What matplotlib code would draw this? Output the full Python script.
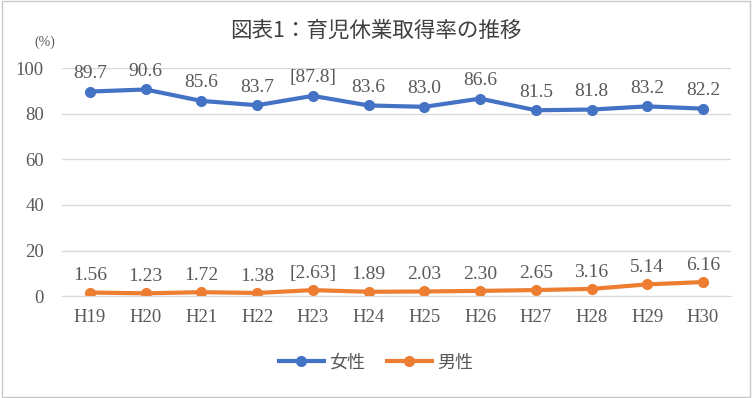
import matplotlib.pyplot as plt
from matplotlib.patches import Rectangle

years = ["H19", "H20", "H21", "H22", "H23", "H24", "H25", "H26", "H27", "H28", "H29", "H30"]
josei = [89.7, 90.6, 85.6, 83.7, 87.8, 83.6, 83.0, 86.6, 81.5, 81.8, 83.2, 82.2]
dansei = [1.56, 1.23, 1.72, 1.38, 2.63, 1.89, 2.03, 2.30, 2.65, 3.16, 5.14, 6.16]
josei_labels = ["89.7", "90.6", "85.6", "83.7", "[87.8]", "83.6", "83.0", "86.6", "81.5", "81.8", "83.2", "82.2"]
dansei_labels = ["1.56", "1.23", "1.72", "1.38", "[2.63]", "1.89", "2.03", "2.30", "2.65", "3.16", "5.14", "6.16"]

fam = ["Liberation Serif", "Noto Sans CJK JP"]
plt.rcParams["font.family"] = fam
txt_col = "#595959"

fig = plt.figure(figsize=(7.52, 3.98), dpi=100)
fig.patches.append(Rectangle((0.002, 0.003), 0.996, 0.994, transform=fig.transFigure,
                             fill=False, edgecolor="#c8c8c8", lw=1))
ax = fig.add_axes([0.0824, 0.256, 0.8896, 0.573])

x = list(range(len(years)))
ax.plot(x, josei, color="#4472C4", lw=3, marker="o", ms=7, label="女性")
ax.plot(x, dansei, color="#ED7D31", lw=3, marker="o", ms=7, label="男性")

# ラベル
for i in x:
    ax.annotate(josei_labels[i], (i, josei[i]), xytext=(0, 7), textcoords="offset points",
                ha="center", va="bottom", fontsize=14, color=txt_col)
    ax.annotate(dansei_labels[i], (i, dansei[i]), xytext=(0, 6), textcoords="offset points",
                ha="center", va="bottom", fontsize=14, color=txt_col)

ax.set_xlim(-0.5, len(years) - 0.5)
ax.set_ylim(0, 100)
ax.set_yticks(range(0, 101, 20))
ax.set_xticks(x)
ax.set_xticklabels(years)
ax.grid(axis="y", color="#d9d9d9", lw=1)
ax.set_axisbelow(True)
for s in ["top", "right", "left"]:
    ax.spines[s].set_visible(False)
ax.spines["bottom"].set_color("#d9d9d9")
ax.tick_params(length=0, labelsize=13.5, colors=txt_col)
ax.tick_params(axis="y", pad=13)
ax.tick_params(axis="x", pad=9)

fig.text(0.5, 0.922, "図表1：育児休業取得率の推移", ha="center", va="center", fontsize=15.5,
         color="#404040", family=["Noto Sans CJK JP"])
fig.text(0.06, 0.893, "(%)", ha="center", va="center", fontsize=10, color=txt_col)

fig.legend(loc="center", bbox_to_anchor=(0.5, 0.088), ncol=2, frameon=False, fontsize=13,
           handlelength=2.5, columnspacing=1.2, handletextpad=0.3, labelcolor=txt_col)

fig.savefig("out.png", dpi=100)
